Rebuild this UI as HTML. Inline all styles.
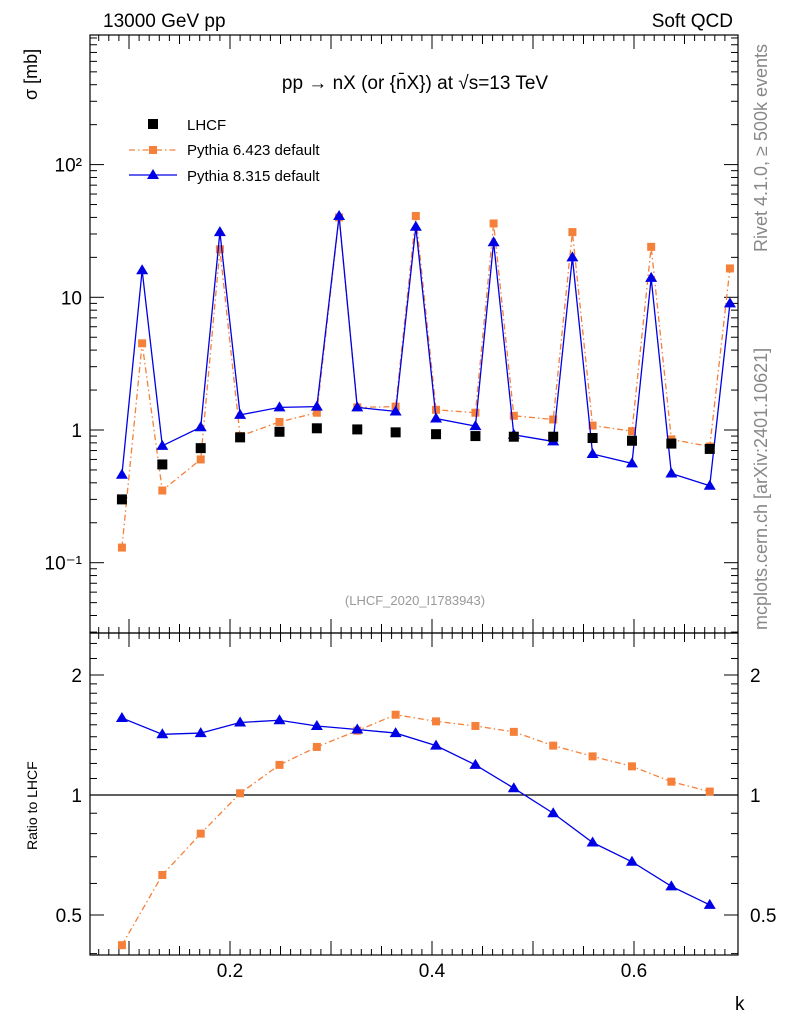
<!DOCTYPE html>
<html><head><meta charset="utf-8"><style>
body{margin:0;background:#fff;}
svg{display:block;font-family:"Liberation Sans",sans-serif;}
</style></head><body>
<svg id="chart" width="786" height="1024" viewBox="0 0 786 1024" xmlns="http://www.w3.org/2000/svg">
<rect x="0" y="0" width="786" height="1024" fill="#fff"/>
<text x="103" y="27" font-size="19">13000 GeV pp</text>
<text x="733" y="27" font-size="19" text-anchor="end">Soft QCD</text>
<text x="415" y="89" font-size="19" text-anchor="middle">pp → nX (or {n̄X}) at √s=13 TeV</text>
<text x="415" y="605" font-size="13" fill="#999" text-anchor="middle">(LHCF_2020_I1783943)</text>
<text transform="translate(767,252) rotate(-90)" font-size="18" fill="#888">Rivet 4.1.0, ≥ 500k events</text>
<text transform="translate(767,630) rotate(-90)" font-size="18" fill="#888">mcplots.cern.ch [arXiv:2401.10621]</text>
<text transform="translate(37,100) rotate(-90)" font-size="18">σ [mb]</text>
<text transform="translate(37,850) rotate(-90)" font-size="14">Ratio to LHCF</text>
<text x="735" y="1010" font-size="19">k</text>
<g id="main"></g>
<g id="ratio"></g>
<g>
<rect x="148" y="119" width="10" height="10" fill="#000"/>
<text x="187" y="130" font-size="15">LHCF</text>
<line x1="129" y1="150" x2="177" y2="150" stroke="#f5803a" stroke-width="1.3" stroke-dasharray="6,3,1.5,3"/>
<rect x="149" y="146" width="8" height="8" fill="#f5803a"/>
<text x="187" y="155" font-size="15">Pythia 6.423 default</text>
<line x1="129" y1="175" x2="177" y2="175" stroke="#0000e6" stroke-width="1.3"/>
<polygon points="153,169 159,179 147,179" fill="#0000e6"/>
<text x="187" y="181" font-size="15">Pythia 8.315 default</text>
</g>
</svg>
<script>
const kData=[0.093,0.133,0.171,0.210,0.249,0.286,0.326,0.364,0.404,0.443,0.481,0.520,0.559,0.598,0.637,0.675];
const lhcfVals=[0.30,0.55,0.73,0.88,0.97,1.03,1.01,0.96,0.93,0.90,0.89,0.89,0.87,0.83,0.79,0.72];
const kMC=[0.093,0.113,0.133,0.171,0.190,0.210,0.249,0.286,0.308,0.326,0.364,0.384,0.404,0.443,0.461,0.481,0.520,0.539,0.559,0.598,0.617,0.637,0.675,0.695];
const p6Vals=[0.13,4.5,0.35,0.60,23,0.90,1.15,1.35,40,1.48,1.50,41,1.42,1.35,36,1.28,1.20,31,1.08,0.98,24,0.85,0.75,16.5];
const p8Vals=[0.46,16,0.76,1.05,31,1.30,1.48,1.50,41,1.48,1.38,34,1.22,1.07,26,0.92,0.82,20,0.66,0.56,14,0.47,0.38,9];
const p6Ratio=[0.42,0.63,0.80,1.01,1.19,1.32,1.45,1.59,1.53,1.49,1.44,1.33,1.25,1.18,1.08,1.02];
const p8Ratio=[1.56,1.42,1.43,1.52,1.54,1.49,1.46,1.43,1.33,1.19,1.04,0.90,0.76,0.68,0.59,0.53];
const xTicks=[0.2,0.4,0.6];
const mainTicks=[[100,"10²"],[10,"10"],[1,"1"],[0.1,"10⁻¹"]];
const ratioTicks=[[2,"2"],[1,"1"],[0.5,"0.5"]];

const NS="http://www.w3.org/2000/svg";
const L=90,R=738,T=35,M=633,B=955;
const X=k=>28+1010*k;
const Y=v=>430-132.7*Math.log10(v);
const YR=r=>795-120*Math.log2(r);
function mk(p,tag,a){const e=document.createElementNS(NS,tag);for(const k in a)e.setAttribute(k,a[k]);p.appendChild(e);return e;}
const main=document.getElementById('main'),ratio=document.getElementById('ratio');

function frame(g,top,bot,yf,minor,labels,nm){
  const f=mk(g,'rect',{x:L,y:top,width:R-L,height:bot-top,fill:'none',stroke:'#000','stroke-width':1.2});
  
  
  for(let k=0.07;k<0.7;k+=0.01){const kk=Math.round(k*100)/100;const len=(Math.round(kk*100)%10===0)?14:(Math.round(kk*100)%5===0?9:6);
    const x=X(kk);if(x<L||x>R)continue;
    mk(g,'line',{x1:x,y1:bot,x2:x,y2:bot-len,stroke:'#000'});
    mk(g,'line',{x1:x,y1:top,x2:x,y2:top+len,stroke:'#000'});}
  minor.forEach(v=>{const y=yf(v);if(y<top||y>bot)return;
    mk(g,'line',{x1:L,y1:y,x2:L+7,y2:y,stroke:'#000'});mk(g,'line',{x1:R,y1:y,x2:R-7,y2:y,stroke:'#000'});});
  labels.forEach(([v,s])=>{const y=yf(v);
    mk(g,'line',{x1:L,y1:y,x2:L+14,y2:y,stroke:'#000'});mk(g,'line',{x1:R,y1:y,x2:R-14,y2:y,stroke:'#000'});
    const t=mk(g,'text',{x:L-8,y:y+7,'font-size':19,'text-anchor':'end'});t.textContent=s;
    
    
  });
}
const minorMain=[];[0.01,0.1,1,10,100,1000].forEach(d=>{for(let i=2;i<10;i++)minorMain.push(d*i);});
frame(main,T,M,Y,minorMain,mainTicks,'main');
const minorR=[0.4,0.6,0.7,0.8,0.9,1.1,1.2,1.3,1.4,1.5,1.6,1.7,1.8,1.9,2.2,2.4];
frame(ratio,M,B,YR,minorR,ratioTicks,'ratio');
ratioTicks.forEach(([v,s])=>{const t=mk(ratio,'text',{x:R+12,y:YR(v)+7,'font-size':19});t.textContent=s;
  
  });
xTicks.forEach(k=>{const t=mk(ratio,'text',{x:X(k),y:B+22,'font-size':19,'text-anchor':'middle'});t.textContent=k.toFixed(1);
  
  });
const unity=mk(ratio,'line',{x1:L,y1:YR(1),x2:R,y2:YR(1),stroke:'#000','stroke-width':1.2});



function series(g,ks,vs,yf,color,dash,marker,nm){
  const pl=mk(g,'polyline',{points:ks.map((k,i)=>X(k)+','+yf(vs[i])).join(' '),fill:'none',stroke:color,'stroke-width':1.3});
  if(dash)pl.setAttribute('stroke-dasharray',dash);
  
  
  ks.forEach((k,i)=>{const x=X(k),y=yf(vs[i]);let m;
    if(marker==='sq')m=mk(g,'rect',{x:x-4,y:y-4,width:8,height:8,fill:color});
    else m=mk(g,'polygon',{points:`${x},${y-6} ${x+6},${y+4} ${x-6},${y+4}`,fill:color});
    
    });
}
series(main,kMC,p6Vals,Y,'#f5803a','6,3,1.5,3','sq','pythia6');
series(main,kMC,p8Vals,Y,'#0000e6',null,'tri','pythia8');
kData.forEach((k,i)=>{const m=mk(main,'rect',{x:X(k)-5,y:Y(lhcfVals[i])-5,width:10,height:10,fill:'#000'});
  
  });
series(ratio,kData,p6Ratio,YR,'#f5803a','6,3,1.5,3','sq','pythia6-ratio');
series(ratio,kData,p8Ratio,YR,'#0000e6',null,'tri','pythia8-ratio');
</script>
</body></html>
